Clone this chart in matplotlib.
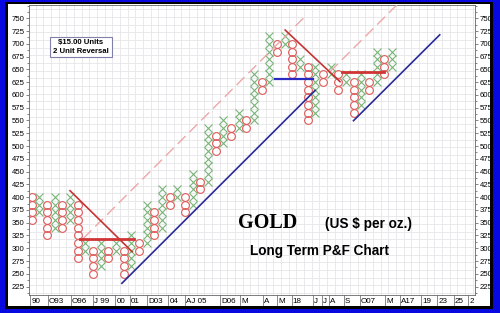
import matplotlib
matplotlib.use('Agg')
import matplotlib.pyplot as plt
from matplotlib.patches import Rectangle
from matplotlib.transforms import blended_transform_factory
import numpy as np

# ---------------- data ----------------
box_size = 15
col_types = ['O', 'X'] * 24
col_lows = [355, 370, 325, 340, 340, 355, 280, 295, 250, 265, 280, 295,
            250, 265, 295, 310, 325, 340, 385, 400, 370, 385, 415, 430,
            490, 505, 520, 535, 535, 550, 610, 625, 685, 700, 640, 655,
            550, 565, 625, 640, 610, 625, 565, 580, 610, 625, 640, 655]
col_highs = [400, 400, 385, 400, 385, 400, 385, 310, 295, 310, 295, 310,
             295, 325, 310, 385, 370, 415, 400, 415, 400, 445, 430, 535,
             520, 550, 535, 565, 550, 640, 625, 715, 700, 715, 700, 670,
             655, 655, 640, 655, 640, 640, 625, 640, 625, 685, 670, 685]

x_labels = ['90', 'O93', 'O96', 'J 99', '00', '01', 'D03', '04', 'AJ 05', 'D06',
            'M', 'A', 'M', '18', 'J', 'J', 'A', 'S', 'O07', 'M', 'A17',
            '19', '23', '25', '2']
x_label_cols = [-0.2, 2.1, 5.1, 8.0, 10.9, 12.8, 15.0, 17.8, 20.0, 24.6,
                27.2, 30.1, 32.0, 33.9, 36.7, 37.8, 38.8, 40.7, 42.8, 46.1, 48.0,
                50.8, 52.9, 55.0, 56.9]

y_tick_values = list(range(225, 751, 25))

# trend lines: (col0, val0, col1, val1)
dashed_lines = [(6.75, 319.5, 35.7, 754.5), (38.9, 645.5, 47.8, 779.0)]
red_lines = [(5.0, 412.6, 13.1, 293.2), (33.05, 727.0, 40.2, 626.0)]
red_flat = [(6.3, 13.3, 317.5), (40.4, 45.9, 644.0)]
blue_lines = [(11.76, 231.4, 36.96, 609.0), (41.96, 549.6, 53.2, 717.6)]
blue_flat = [(31.7, 36.7, 630.6)]

# ---------------- figure ----------------
W, H = 500, 313
fig = plt.figure(figsize=(W / 100, H / 100), dpi=100, facecolor='#0808e0')

def px_rect(x0, y0, x1, y1, **kw):
    fig.add_artist(Rectangle((x0 / W, 1 - y1 / H), (x1 - x0) / W, (y1 - y0) / H,
                             transform=fig.transFigure, **kw))

px_rect(5, 2, 493, 309, facecolor='black', edgecolor='none', zorder=0)
px_rect(8, 4, 490, 306, facecolor='white', edgecolor='none', zorder=0)

ax_l, ax_r, ax_t, ax_b = 29, 475, 5, 295
ax = fig.add_axes([ax_l / W, 1 - ax_b / H, (ax_r - ax_l) / W, (ax_b - ax_t) / H])
ax.set_facecolor('white')
ax.set_xlim(-0.35, 57.8)
ax.set_ylim(208.5, 776)

# box grid
gcol = '#e6e6ea'
for v in np.arange(242.5 - 3 * box_size, 800, box_size):
    ax.axhline(v, color=gcol, lw=0.6, zorder=1)
for c in np.arange(-0.5, 58, 1):
    ax.axvline(c, color=gcol, lw=0.6, zorder=1)

# columns
for i, (t, lo, hi) in enumerate(zip(col_types, col_lows, col_highs)):
    vals = np.arange(lo, hi + 1, box_size)
    xs = np.full(len(vals), i)
    if t == 'X':
        ax.plot(xs, vals, ls='none', marker='x', ms=5.6, mew=0.8,
                color='#78b478', zorder=3)
    else:
        ax.plot(xs, vals, ls='none', marker='o', ms=5.6, mew=0.8,
                mfc='none', mec='#e05a5a', zorder=3)

# trend lines
for c0, v0, c1, v1 in dashed_lines:
    ax.plot([c0, c1], [v0, v1], color='#eca8a8', lw=1.0, ls=(0, (8, 4)), zorder=4)
for c0, v0, c1, v1 in red_lines:
    ax.plot([c0, c1], [v0, v1], color='#c43434', lw=1.2, zorder=4)
for c0, c1, v in red_flat:
    ax.plot([c0, c1], [v, v], color='#d03434', lw=2.0, zorder=4)
for c0, v0, c1, v1 in blue_lines:
    ax.plot([c0, c1], [v0, v1], color='#2a2a9a', lw=1.2, zorder=4)
for c0, c1, v in blue_flat:
    ax.plot([c0, c1], [v, v], color='#2a2ac0', lw=1.6, zorder=4)

# y axis ticks on both sides
ax.set_yticks(y_tick_values)
ax.set_yticks(np.arange(212.5, 776, 12.5), minor=True)
ax.tick_params(axis='y', which='both', left=True, right=True, labelleft=True,
               labelright=True, direction='out', colors='#555555', width=0.5,
               labelcolor='black', labelsize=5.6, pad=0.8)
ax.tick_params(axis='y', which='major', length=2.5)
ax.tick_params(axis='y', which='minor', length=1.3)
for lab in ax.get_yticklabels():
    lab.set_fontfamily('Liberation Sans')
ax.set_xticks([])
for s in ax.spines.values():
    s.set_color('#666666')
    s.set_linewidth(0.6)

# x labels with separators
trans = blended_transform_factory(ax.transData, ax.transAxes)
for lab, c in zip(x_labels, x_label_cols):
    ax.plot([c, c], [0, -0.035], transform=trans, color='#777777', lw=0.6,
            clip_on=False)
    ax.text(c + 0.15, -0.021, lab, transform=trans, fontsize=5.8,
            family='Liberation Sans', ha='left', va='center', clip_on=False)

# annotations
fig.text(81 / W, 1 - 47 / H, '$15.00 Units\n2 Unit Reversal', fontsize=5.6,
         family='Liberation Sans', fontweight='bold', ha='center', va='center',
         linespacing=1.25,
         bbox=dict(boxstyle='square,pad=0.35', fc='white', ec='#8080a8', lw=0.8))
fig.text(268 / W, 1 - 223 / H, 'GOLD', fontsize=14.5, family='Liberation Serif',
         fontweight='bold', ha='center', va='center')
fig.text(325 / W, 1 - 224 / H, '(US $ per oz.)', fontsize=9.8,
         family='Liberation Sans', fontweight='bold', ha='left', va='center')
fig.text(319 / W, 1 - 251 / H, 'Long Term P&F Chart', fontsize=9.8,
         family='Liberation Sans', fontweight='bold', ha='center', va='center')

fig.savefig('out.png', dpi=100, facecolor=fig.get_facecolor())
